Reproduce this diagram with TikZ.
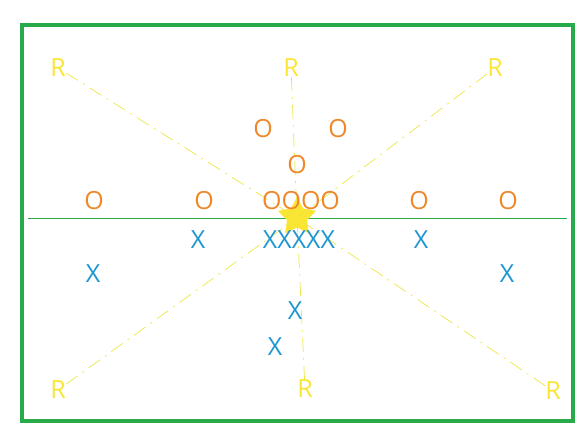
\documentclass[tikz,border=0pt]{standalone}
\usepackage{fontspec}
\setmainfont{Open Sans}
\usetikzlibrary{shapes.geometric}
\definecolor{frameg}{RGB}{40,170,75}
\definecolor{ry}{RGB}{250,230,50}
\definecolor{oo}{RGB}{240,135,40}
\definecolor{xb}{RGB}{30,150,210}
\definecolor{ray}{RGB}{235,230,70}
\tikzset{
  lab/.style={inner sep=0pt, font=\fontsize{25}{30}\selectfont},
  rlab/.style={lab, text=ry},
  olab/.style={lab, text=oo},
  xlab/.style={lab, text=xb},
  rayline/.style={draw=ray, line width=0.7pt, dash pattern=on 14pt off 6pt on 2pt off 6pt},
}
\begin{document}
\begin{tikzpicture}[x=1pt,y=-1pt]
\useasboundingbox (0,0) rectangle (583,433);
\draw[frameg, line width=4pt] (22,25) rectangle (573,421);
\coordinate (hl) at (28,218);
\coordinate (hr) at (567,218);
\draw[frameg, line width=0.7pt] (hl) -- (hr);
% labels R
\node[rlab] (r1) at (58,68) {R};
\node[rlab] (r2) at (291,68) {R};
\node[rlab] (r3) at (495,68) {R};
\node[rlab] (r4) at (58,390) {R};
\node[rlab] (r5) at (305,389) {R};
\node[rlab] (r6) at (553,391) {R};
% star
\node[star, star points=5, star point ratio=1.9, fill=ry, draw=none, minimum size=40pt, inner sep=0pt, rotate=0] (s) at (297,217) {};
% rays
\coordinate (c) at (297,218);
\draw[rayline] (r1) -- (c);
\draw[rayline] (r2) -- (c);
\draw[rayline] (r3) -- (c);
\draw[rayline] (r4) -- (c);
\draw[rayline] (r5) -- (c);
\draw[rayline] (r6) -- (c);
% O labels
\node[olab] (o1) at (263,129) {O};
\node[olab] (o2) at (338,129) {O};
\node[olab] (o3) at (297,165) {O};
\node[olab] (o4) at (94,201) {O};
\node[olab] (o5) at (204,201) {O};
\node[olab] (o6) at (301,201) {OOOO};
\node[olab] (o7) at (419,201) {O};
\node[olab] (o8) at (508,201) {O};
% X labels
\node[xlab] (x1) at (198,240) {X};
\node[xlab] (x2) at (299,240) {XXXXX};
\node[xlab] (x3) at (421,240) {X};
\node[xlab] (x4) at (93,274) {X};
\node[xlab] (x5) at (507,274) {X};
\node[xlab] (x6) at (295,311) {X};
\node[xlab] (x7) at (275,347) {X};
\end{tikzpicture}
\end{document}
